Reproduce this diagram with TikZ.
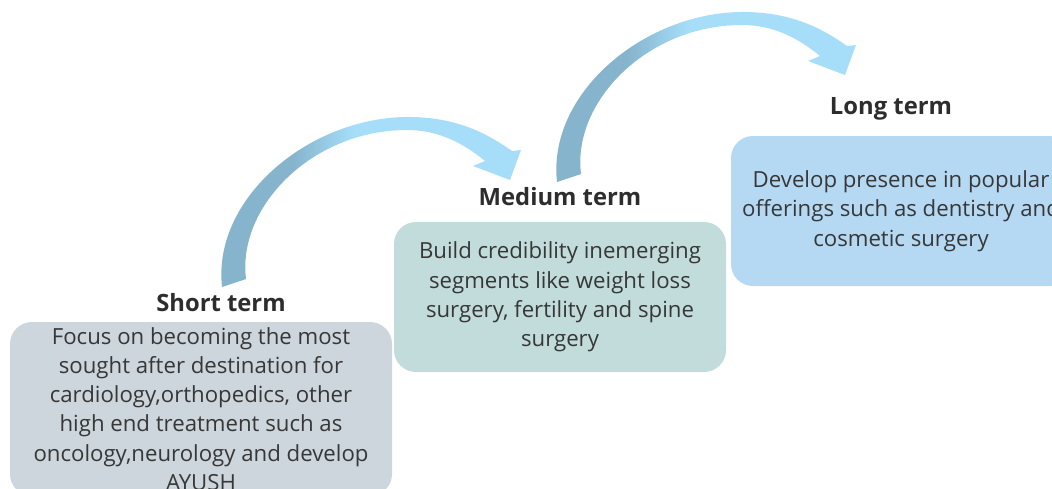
\documentclass[tikz,border=0pt]{standalone}
\usepackage{fontspec}
\setmainfont{Open Sans}
\definecolor{arrDark}{RGB}{134,180,205}
\definecolor{arrLight}{RGB}{166,222,250}
\definecolor{shortFill}{RGB}{205,214,220}
\definecolor{medFill}{RGB}{194,220,220}
\definecolor{longFill}{RGB}{181,217,242}
\definecolor{txt}{RGB}{55,55,55}
\definecolor{ttl}{RGB}{45,45,45}
\pgfdeclarehorizontalshading{arrshade}{100bp}{color(0bp)=(arrDark); color(38bp)=(arrDark); color(48bp)=(arrLight); color(100bp)=(arrLight)}
\tikzset{
  box/.style={rounded corners=22pt, align=center, text=txt, inner sep=0pt,
    font=\fontsize{22.2}{29.3}\selectfont},
  ttlnode/.style={text=ttl, inner sep=0pt, font=\fontsize{23.8}{28}\selectfont\bfseries},
  curvearrow/.style={shade, shading=arrshade, draw=none},
}
\begin{document}
\begin{tikzpicture}[x=1pt,y=-1pt]
\useasboundingbox (0,0) rectangle (1052,488);
\clip (0,0) rectangle (1052,488);
% boxes
\node[box, fill=shortFill, minimum width=382pt, minimum height=174pt] (shortbox) at (201,409)
  {Focus on becoming the most\\sought after destination for\\cardiology,orthopedics, other\\high end treatment such as\\oncology,neurology and develop\\AYUSH};
\node[box, fill=medFill, minimum width=332pt, minimum height=150pt] (medbox) at (560,297)
  {Build credibility inemerging\\segments like weight loss\\surgery, fertility and spine\\surgery};
\node[box, fill=longFill, minimum width=340pt, minimum height=150pt] (longbox) at (901,211)
  {Develop presence in popular\\offerings such as dentistry and\\cosmetic surgery};
% titles
\node[ttlnode] (shortttl) at (221,303) {Short term};
\node[ttlnode] (medttl) at (560,197) {Medium term};
\node[ttlnode] (longttl) at (891,109) {Long term};
% curved arrows
\foreach \dx/\dy in {222/287, 557/182} {
\begin{scope}[shift={(\dx,\dy)}]
\path[curvearrow] (0,0) .. controls (-10,-90) and (90,-172) .. (190,-170)
  .. controls (240,-169) and (270,-150) .. (290,-136)
  -- (299,-137) -- (288,-107) -- (251,-121) -- (263,-126)
  .. controls (240,-145) and (215,-157) .. (185,-157)
  .. controls (90,-157) and (15,-80) .. (24,-8) -- cycle;
\end{scope}
}
\end{tikzpicture}
\end{document}
